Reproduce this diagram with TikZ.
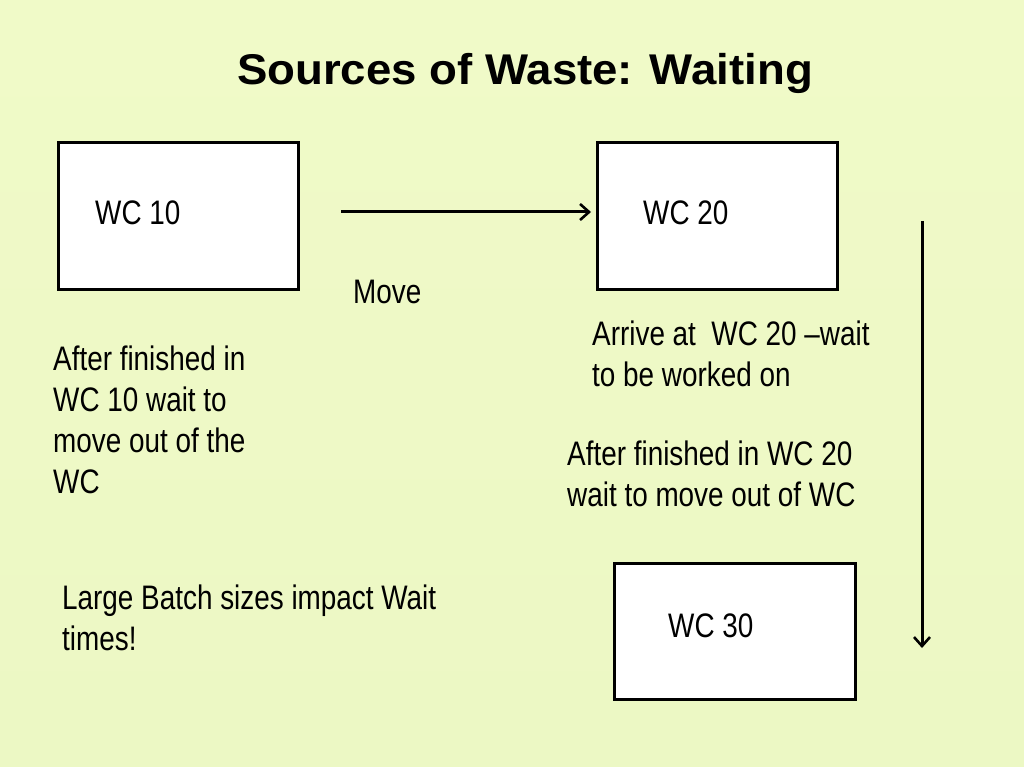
\documentclass[tikz,border=0pt]{standalone}
\usepackage{fontspec}
\setmainfont{Liberation Sans}
\newfontfamily\narrowfont[FakeStretch=0.82]{Liberation Sans}
\newfontfamily\titlefont[FakeStretch=1.06]{Liberation Sans}
\usetikzlibrary{arrows.meta}
\definecolor{bgtop}{RGB}{240,250,200}
\definecolor{bgmid}{RGB}{252,254,238}
\definecolor{bgbot}{RGB}{236,248,196}
\tikzset{
  wcbox/.style={draw=black, fill=white, line width=3pt, inner sep=0pt},
  body/.style={inner sep=0pt, anchor=base west, align=left,
    font=\narrowfont\fontsize{34}{41}\selectfont},
  flow/.style={line width=3pt, -{Straight Barb[length=9pt,width=16pt,line width=2.6pt]}},
}
\begin{document}
\begin{tikzpicture}[x=1pt,y=-1pt]
\useasboundingbox (0,0) rectangle (1024,767);
\shade[top color=bgtop, middle color=bgmid, bottom color=bgbot] (0,0) rectangle (1024,767);

\node[inner sep=0pt, anchor=base] (title) at (525,85)
  {\titlefont\bfseries\fontsize{43}{50}\selectfont Sources of Waste: Waiting};

\draw[wcbox] (58,143) rectangle (298,289);
\node[body] (wc10) at (95,225) {WC 10};
\draw[wcbox] (597,143) rectangle (837,289);
\node[body] (wc20) at (643,225) {WC 20};
\draw[wcbox] (614,563) rectangle (855,699);
\node[body] (wc30) at (668,637) {WC 30};

\coordinate (h1) at (341,212);
\coordinate (h2) at (591,212);
\draw[flow] (h1) -- (h2);
\coordinate (v1) at (922,221);
\coordinate (v2) at (922,648);
\draw[flow] (v1) -- (v2);

% multi-line nodes: base anchor is the baseline of the last line
\node[body] (move) at (353,303) {Move};
\node[body] (arrive) at (592,386) {Arrive at\ \ WC 20 –wait\\to be worked on};
\node[body] (after10) at (53,493) {After finished in\\WC 10 wait to\\move out of the\\WC};
\node[body] (after20) at (567,506) {After finished in WC 20\\wait to move out of WC};
\node[body] (batch) at (62,650) {Large Batch sizes impact Wait\\times!};
\end{tikzpicture}
\end{document}
